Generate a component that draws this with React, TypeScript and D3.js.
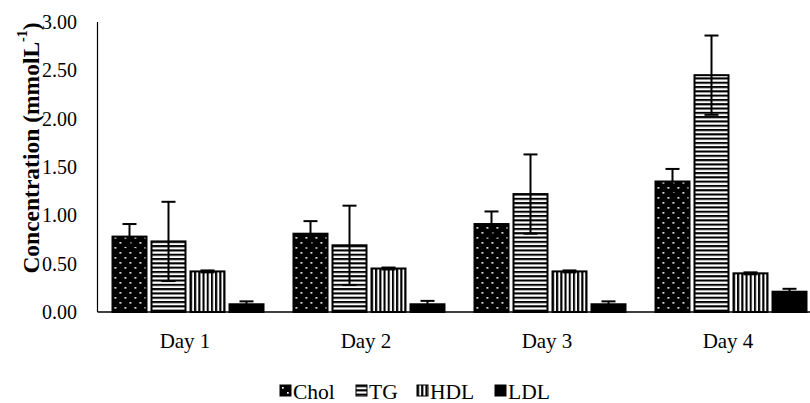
import React from "react";
import * as d3 from "d3";

const days = ["Day 1", "Day 2", "Day 3", "Day 4"];
const seriesNames = ["Chol", "TG", "HDL", "LDL"];
const cholValues = [0.78, 0.81, 0.91, 1.35];
const cholErrors = [0.13, 0.13, 0.13, 0.13];
const tgValues = [0.73, 0.69, 1.22, 2.45];
const tgErrors = [0.41, 0.41, 0.41, 0.41];
const hdlValues = [0.42, 0.45, 0.42, 0.40];
const hdlErrors = [0.01, 0.01, 0.01, 0.01];
const ldlValues = [0.08, 0.08, 0.08, 0.21];
const ldlErrors = [0.03, 0.035, 0.03, 0.03];
const yTicks = [0, 0.5, 1, 1.5, 2, 2.5, 3];

const values = [cholValues, tgValues, hdlValues, ldlValues];
const errors = [cholErrors, tgErrors, hdlErrors, ldlErrors];
const fills = ["url(#pat-chol)", "url(#pat-tg)", "url(#pat-hdl)", "#000"];

const W = 810;
const H = 403;
const left = 97.5;
const bandW = 181;
const font = "'Liberation Serif', 'Times New Roman', serif";

export default function App() {
  const y = d3.scaleLinear().domain([0, 3]).range([312, 22]);
  const x0 = d3.scaleBand<string>().domain(days).range([left, left + bandW * 4]);
  const x1 = d3
    .scaleBand<string>()
    .domain(seriesNames)
    .range([15, 166])
    .paddingInner(5 / 39)
    .paddingOuter(0);

  const legendX = [280, 356, 417, 495];

  return (
    <svg
      width={W}
      height={H}
      style={{ position: "absolute", left: 0, top: 0, background: "#fff" }}
      fontFamily={font}
    >
      <defs>
        <pattern id="pat-chol" patternUnits="userSpaceOnUse" width={10} height={10}>
          <rect width={10} height={10} fill="#000" />
          <rect x={2} y={2} width={1.7} height={1.7} fill="#fff" />
          <rect x={7} y={7} width={1.7} height={1.7} fill="#fff" />
        </pattern>
        <pattern id="pat-tg" patternUnits="userSpaceOnUse" width={10} height={4.3}>
          <rect width={10} height={4.3} fill="#fff" />
          <rect y={0} width={10} height={2.1} fill="#000" />
        </pattern>
        <pattern id="pat-hdl" patternUnits="userSpaceOnUse" width={4.2} height={10}>
          <rect width={4.2} height={10} fill="#fff" />
          <rect x={0} width={2.1} height={10} fill="#000" />
        </pattern>
      </defs>

      {/* bars */}
      {days.map((day, di) => (
        <g key={day} transform={`translate(${x0(day)},0)`}>
          {seriesNames.map((s, si) => {
            const v = values[si][di];
            const bx = x1(s)!;
            const bw = x1.bandwidth();
            return (
              <rect
                key={s}
                x={bx}
                y={y(v)}
                width={bw}
                height={y(0) - y(v)}
                fill={fills[si]}
                stroke="#000"
                strokeWidth={2}
              />
            );
          })}
          {seriesNames.map((s, si) => {
            const v = values[si][di];
            const e = errors[si][di];
            const cx = x1(s)! + x1.bandwidth() / 2;
            return (
              <g key={s} stroke="#000" strokeWidth={2}>
                <line x1={cx} x2={cx} y1={y(v + e)} y2={y(v - e)} />
                <line x1={cx - 7} x2={cx + 7} y1={y(v + e)} y2={y(v + e)} />
                <line x1={cx - 7} x2={cx + 7} y1={y(v - e)} y2={y(v - e)} />
              </g>
            );
          })}
        </g>
      ))}

      {/* axes */}
      <line x1={left} x2={W} y1={y(0)} y2={y(0)} stroke="#000" strokeWidth={1.5} />
      <line x1={left} x2={left} y1={y(3)} y2={y(0)} stroke="#000" strokeWidth={1.2} />

      {yTicks.map((t) => (
        <text
          key={t}
          x={77}
          y={y(t)}
          textAnchor="end"
          dominantBaseline="central"
          fontSize={20}
          fill="#000"
        >
          {d3.format(".2f")(t)}
        </text>
      ))}

      {days.map((day) => (
        <text
          key={day}
          x={x0(day)! + bandW / 2 - 3}
          y={348}
          textAnchor="middle"
          fontSize={21}
          fill="#000"
        >
          {day}
        </text>
      ))}

      <text
        transform={`translate(31,148) rotate(-90)`}
        textAnchor="middle"
        dominantBaseline="central"
        fontSize={23.5}
        fontWeight="bold"
        fill="#000"
      >
        Concentration (mmolL
        <tspan fontSize={14} dy={-9}>-1</tspan>
        <tspan dy={9}>)</tspan>
      </text>

      {/* legend */}
      {seriesNames.map((s, si) => (
        <g key={s} transform={`translate(${legendX[si]},385)`}>
          <rect width={11} height={11} fill={fills[si]} stroke="#000" strokeWidth={1} />
          <text x={13} y={14} fontSize={21.5} fill="#000">
            {s}
          </text>
        </g>
      ))}
    </svg>
  );
}
